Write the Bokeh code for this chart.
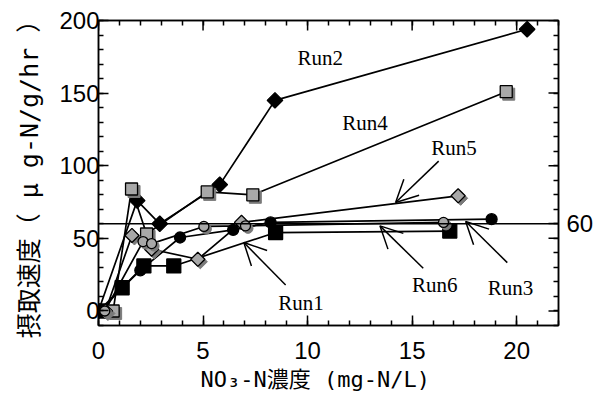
from bokeh.plotting import figure
from bokeh.models import (LinearAxis, FixedTicker, Span, Range1d, Arrow, OpenHead,
                          ColumnDataSource)
from bokeh.embed import file_html
from bokeh.resources import INLINE
from bokeh.core.properties import value
import math

# ---- data ----
run1_x = [0.1, 1.13, 2.17, 3.6, 8.47, 16.8]
run1_y = [0.0, 16.0, 31.0, 31.0, 54.0, 55.0]
run2_x = [0.0, 1.85, 2.93, 5.8, 8.44, 20.5]
run2_y = [0.0, 76.0, 60.0, 87.0, 145.0, 194.0]
run3_x = [0.0, 2.0, 3.9, 6.44, 8.23, 18.8]
run3_y = [0.0, 28.0, 50.6, 55.8, 61.0, 63.2]
run4_x = [0.7, 1.58, 2.3, 5.2, 7.38, 19.5]
run4_y = [0.0, 84.0, 53.0, 82.0, 80.0, 151.0]
run5_x = [0.33, 1.6, 2.54, 4.75, 6.84, 17.2]
run5_y = [0.0, 52.0, 42.5, 35.6, 61.0, 79.3]
run6_x = [0.3, 2.13, 2.54, 5.04, 7.03, 16.5]
run6_y = [0.0, 47.8, 46.4, 58.2, 58.6, 61.0]

ref_level = 60

label_text = ["Run1", "Run2", "Run3", "Run4", "Run5", "Run6"]
label_x = [9.69, 10.6, 19.7, 12.75, 17.0, 16.08]
label_y = [5.5, 174.5, 15.9, 129.7, 112.4, 17.9]

arrow_x0 = [8.95, 19.55, 16.27, 15.53]
arrow_y0 = [17.9, 33.3, 103.2, 29.4]
arrow_x1 = [6.95, 17.56, 14.21, 13.46]
arrow_y1 = [47.1, 61.6, 74.7, 58.6]

x_major = [0, 5, 10, 15, 20]
x_minor = list(range(0, 23))
y_major = [0, 50, 100, 150, 200]
y_minor = list(range(-10, 201, 10))

X0, X1 = 0, 22
Y0, Y1 = -10, 200
FW, FH = 460, 305

GRAY = "#a8a8a8"
SHADOW = "#7a7a7a"

p = figure(frame_width=FW, frame_height=FH,
           x_range=Range1d(X0, X1), y_range=Range1d(Y0, Y1),
           output_backend="svg", toolbar_location=None,
           min_border_left=98, min_border_right=37,
           min_border_top=20, min_border_bottom=75)
p.grid.visible = False
p.outline_line_color = "black"
p.outline_line_width = 1.5
p.background_fill_color = "white"

def style_axis(ax):
    ax.axis_line_width = 1.5
    ax.major_tick_line_width = 1.5
    ax.minor_tick_line_width = 1.5
    ax.major_tick_in = 10
    ax.major_tick_out = 0
    ax.minor_tick_in = 5
    ax.minor_tick_out = 0
    ax.major_label_text_font = "Liberation Sans"
    ax.major_label_text_font_size = "24px"
    ax.major_label_text_color = "black"
    ax.axis_label_text_color = "black"
    ax.axis_label_text_font_style = "normal"

xb = p.xaxis[0]
xb.ticker = FixedTicker(ticks=x_major, minor_ticks=x_minor)
style_axis(xb)
xb.major_label_standoff = 16
xb.axis_label = "NO₃-N濃度 (mg-N/L)  "
xb.axis_label_text_font = "'DejaVu Sans Mono', 'Noto Sans CJK JP'"
xb.axis_label_text_font_size = "22px"
xb.axis_label_standoff = 5

yl = p.yaxis[0]
yl.ticker = FixedTicker(ticks=y_major, minor_ticks=y_minor)
style_axis(yl)
yl.major_label_standoff = -1
yl.axis_label = "摂取速度（ μ g-N/g/hr ）"
yl.axis_label_text_font = "'DejaVu Sans Mono', 'Noto Sans CJK JP'"
yl.axis_label_text_font_size = "25px"
yl.axis_label_standoff = 12

# top axis: minor ticks only (majors drawn below as short segments)
xt = LinearAxis(ticker=FixedTicker(ticks=[], minor_ticks=x_minor))
style_axis(xt)
p.add_layout(xt, "above")

# right axis: only the reference level is labelled
yr = LinearAxis(ticker=FixedTicker(ticks=[ref_level], minor_ticks=y_minor))
style_axis(yr)
yr.major_label_standoff = 8
p.add_layout(yr, "right")

# long (major) ticks on the top and right edges
tick_len = 10
p.segment(x0=x_major, y0=[Y1] * len(x_major), x1=x_major,
          y1=[Y1 - tick_len * (Y1 - Y0) / FH] * len(x_major),
          line_color="black", line_width=1.5)
p.segment(x0=[X1] * len(y_major), y0=y_major,
          x1=[X1 - tick_len * (X1 - X0) / FW] * len(y_major), y1=y_major,
          line_color="black", line_width=1.5)

p.add_layout(Span(location=ref_level, dimension="width", line_color="black", line_width=1.5))

series = [
    (run1_x, run1_y, "square", 14, "black", False, 0),
    (run2_x, run2_y, "square", 11, "black", False, math.pi / 4),
    (run3_x, run3_y, "circle", 11, "black", False, 0),
    (run4_x, run4_y, "square", 12, GRAY, True, 0),
    (run5_x, run5_y, "square", 10, GRAY, True, math.pi / 4),
    (run6_x, run6_y, "circle", 10, GRAY, True, 0),
]

for xs, ys, *_ in series:
    p.line(xs, ys, line_color="black", line_width=1.7)

dx = 2.5 * (X1 - X0) / FW
dy = 2.5 * (Y1 - Y0) / FH
for xs, ys, marker, size, color, shadow, ang in series:
    if shadow:
        p.scatter([x + dx for x in xs], [y - dy for y in ys], marker=marker, size=size,
                  angle=ang, fill_color=SHADOW, line_color=SHADOW, line_width=1)
    p.scatter(xs, ys, marker=marker, size=size, angle=ang, fill_color=color,
              line_color="black", line_width=1.3)

asrc = ColumnDataSource(dict(x0=arrow_x0, y0=arrow_y0, x1=arrow_x1, y1=arrow_y1))
p.add_layout(Arrow(source=asrc, x_start="x0", y_start="y0", x_end="x1", y_end="y1",
                   line_width=1.5, line_color="black",
                   end=OpenHead(size=22, line_width=1.5, line_color="black")))

p.text(x=label_x, y=label_y, text=label_text, text_font=value("Liberation Serif"),
       text_font_size="21px", text_align="center", text_baseline="middle", text_color="black")

open("out.html", "w").write(file_html(p, INLINE))
